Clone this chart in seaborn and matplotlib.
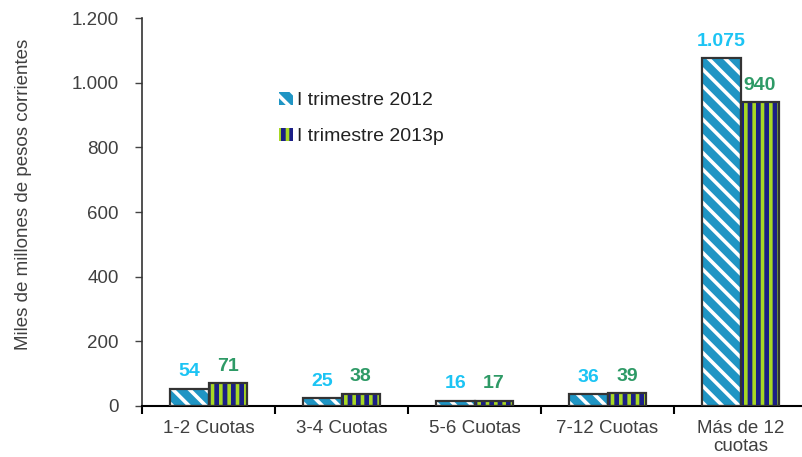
import pandas as pd
import matplotlib.pyplot as plt
import seaborn as sns
from matplotlib.patches import Patch, Rectangle
from matplotlib.ticker import FuncFormatter, FixedLocator

# Datos
categorias = ["1-2 Cuotas", "3-4 Cuotas", "5-6 Cuotas", "7-12 Cuotas", "Más de 12\ncuotas"]
valores_2012 = [54, 25, 16, 36, 1075]
valores_2013 = [71, 38, 17, 39, 940]
series = ["I trimestre 2012", "I trimestre 2013p"]

df = pd.DataFrame({
    "Categoria": categorias * 2,
    "Valor": valores_2012 + valores_2013,
    "Serie": [series[0]] * len(categorias) + [series[1]] * len(categorias),
})

# estilo de cada serie: color de fondo, color del rayado, patrón, color de etiqueta
estilos = {
    series[0]: dict(fondo="#1F95C4", raya="white", hatch="\\\\", etiqueta="#1CC4F4"),
    series[1]: dict(fondo="#1B1F86", raya="#A8D824", hatch="||", etiqueta="#2E9A66"),
}

def miles(x, pos):
    return f"{int(x):,}".replace(",", ".")

sns.set_theme(style="white")
plt.rcParams["font.family"] = ["Liberation Sans", "DejaVu Sans"]
plt.rcParams["hatch.linewidth"] = 2.6

fig = plt.figure(figsize=(8.03, 4.57), dpi=100)
ax = fig.add_axes([0.177, 0.1116, 0.828, 0.849])

sns.barplot(data=df, x="Categoria", y="Valor", hue="Serie", hue_order=series,
            palette=[estilos[s]["fondo"] for s in series], width=0.58,
            legend=False, ax=ax, saturation=1)

for cont, s in zip(ax.containers, series):
    est = estilos[s]
    for p in cont.patches:
        p.set_hatch(est["hatch"])
        p.set_edgecolor(est["raya"])
        p.set_linewidth(0)
        # contorno oscuro encima
        ax.add_patch(Rectangle(p.get_xy(), p.get_width(), p.get_height(),
                               fill=False, edgecolor="#333333", linewidth=1.6, zorder=3))
    etiquetas = [miles(v, None) for v in cont.datavalues]
    ax.bar_label(cont, labels=etiquetas, padding=6, color=est["etiqueta"],
                 fontsize=14, fontweight="bold")

ax.set_ylim(0, 1200)
ax.set_xlim(-0.5, 4.5)
ax.set_yticks(range(0, 1201, 200))
ax.yaxis.set_major_formatter(FuncFormatter(miles))
ax.tick_params(axis="y", which="major", direction="out", length=5, width=1,
               color="#444444", labelsize=13.5, labelcolor="#404040", left=True, pad=12)
ax.tick_params(axis="x", which="major", length=0, labelsize=13.5, labelcolor="#404040", pad=10)
ax.xaxis.set_minor_locator(FixedLocator([-0.5, 0.5, 1.5, 2.5, 3.5]))
ax.tick_params(axis="x", which="minor", direction="out", length=6, width=1.5,
               color="black", bottom=True)
ax.set_xlabel("")
ax.set_ylabel("Miles de millones de pesos corrientes", fontsize=13.5, color="#404040")
ax.yaxis.set_label_coords(-0.165, 0.545)
for t in ax.get_xticklabels():
    t.set_linespacing(1.1)

for lado in ["top", "right"]:
    ax.spines[lado].set_visible(False)
ax.spines["left"].set_color("#333333")
ax.spines["left"].set_linewidth(1.2)
ax.spines["bottom"].set_color("black")
ax.spines["bottom"].set_linewidth(1.5)

handles = [Patch(facecolor=estilos[s]["fondo"], edgecolor=estilos[s]["raya"],
                 hatch=estilos[s]["hatch"], linewidth=0) for s in series]
ax.legend(handles, series, loc="upper left", bbox_to_anchor=(0.18, 0.855), frameon=False,
          fontsize=14, handlelength=0.7, handleheight=0.7, handletextpad=0.2,
          labelspacing=0.95, labelcolor="#222222")

fig.savefig("out.png", dpi=100)
